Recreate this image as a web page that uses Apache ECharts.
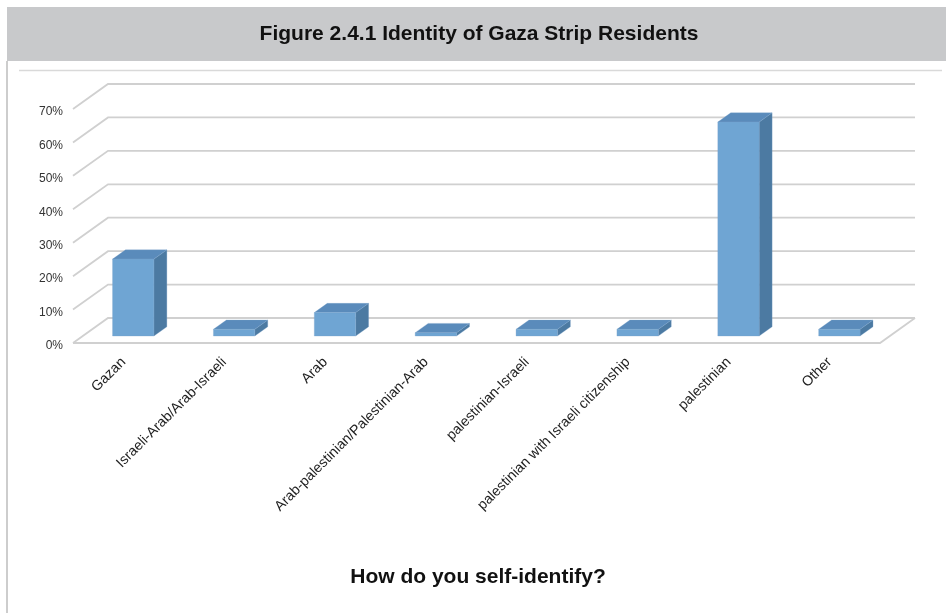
<!DOCTYPE html>
<html><head><meta charset="utf-8">
<script src="https://cdn.jsdelivr.net/npm/echarts@6/dist/echarts.min.js"></script>
<style>html,body{margin:0;padding:0;background:#fff}#c{width:946px;height:613px}</style>
</head><body><div id="c"></div>
<script>
const titleText = 'Figure 2.4.1 Identity of Gaza Strip Residents';
const xAxisTitle = 'How do you self-identify?';
const categories = ['Gazan', 'Israeli-Arab/Arab-Israeli', 'Arab', 'Arab-palestinian/Palestinian-Arab', 'palestinian-Israeli', 'palestinian with Israeli citizenship', 'palestinian', 'Other'];
const shares = [23, 2, 7, 1, 2, 2, 64, 2];
const yTicks = [0, 10, 20, 30, 40, 50, 60, 70];

const FONT = '"Liberation Sans", Arial, sans-serif';
const DX = 35, DY = -25;          // depth of the 3D box
const BAR_FRONT = 0.28, BAR_DEPTH = 0.37, BAR_W = 0.41;

const chart = echarts.init(document.getElementById('c'), null, {renderer: 'canvas'});

function renderWalls(params, api) {
  const n = categories.length;
  const bw = api.size([1, 0])[0];
  const x0 = api.coord([0, 0])[0] - bw / 2;
  const x1 = api.coord([n - 1, 0])[0] + bw / 2;
  const children = [];
  const lineStyle = {stroke: '#d0d0d0', lineWidth: 1.8, fill: 'none'};
  yTicks.forEach(function (v) {
    const y = api.coord([0, v])[1];
    children.push({type: 'polyline', shape: {points: [[x0, y], [x0 + DX, y + DY], [x1 + DX, y + DY]]}, style: lineStyle});
  });
  const y0 = api.coord([0, 0])[1];
  children.push({type: 'polyline', shape: {points: [[x0, y0], [x1, y0], [x1 + DX, y0 + DY]]}, style: lineStyle});
  return {type: 'group', children: children};
}

function renderBar(params, api) {
  const i = api.value(0), v = api.value(1);
  const top = api.coord([i, v]);
  const base = api.coord([i, 0]);
  const bw = api.size([1, 0])[0];
  const w = bw * BAR_W;
  const ox = DX * BAR_FRONT, oy = DY * BAR_FRONT;
  const bx = DX * BAR_DEPTH, by = DY * BAR_DEPTH;
  const xl = top[0] - w / 2 + ox, xr = xl + w;
  const yt = top[1] + oy, yb = base[1] + oy;
  const edge = 'rgba(120,160,200,0.6)';
  return {type: 'group', children: [
    {type: 'polygon', shape: {points: [[xr, yt], [xr + bx, yt + by], [xr + bx, yb + by], [xr, yb]]}, style: {fill: '#4c7aa2', stroke: edge, lineWidth: 0.5}},
    {type: 'polygon', shape: {points: [[xl, yt], [xr, yt], [xr + bx, yt + by], [xl + bx, yt + by]]}, style: {fill: '#5a8bbb', stroke: edge, lineWidth: 0.5}},
    {type: 'rect', shape: {x: xl, y: yt, width: w, height: yb - yt}, style: {fill: '#6fa5d3', stroke: edge, lineWidth: 0.5}}
  ]};
}

const option = {
  animation: false,
  backgroundColor: '#fff',
  grid: {left: 73, right: 66, top: 109, bottom: 270},
  xAxis: {
    type: 'category', data: categories,
    axisLine: {show: false}, axisTick: {show: false}, splitLine: {show: false},
    axisLabel: {rotate: 45, interval: 0, margin: 17, fontSize: 14.2, color: '#222', fontFamily: FONT}
  },
  yAxis: {
    type: 'value', min: 0, max: 70, interval: 10,
    axisLine: {show: false}, axisTick: {show: false}, splitLine: {show: false},
    axisLabel: {formatter: '{value}%', fontSize: 12, color: '#333', margin: 10, fontFamily: FONT, verticalAlign: 'top', lineHeight: 6}
  },
  graphic: [
    {type: 'rect', z: -10, shape: {x: 7, y: 7, width: 939, height: 54}, style: {fill: '#c8c9cb'}},
    {type: 'line', z: -10, shape: {x1: 7, y1: 61, x2: 7, y2: 613}, style: {stroke: '#cdcdcd', lineWidth: 2}},
    {type: 'line', z: -10, shape: {x1: 19, y1: 70.5, x2: 942, y2: 70.5}, style: {stroke: '#d9d9d9', lineWidth: 1.5}},
    {type: 'text', x: 479, y: 34, style: {text: titleText, font: 'bold 21px ' + FONT, fill: '#111', align: 'center', verticalAlign: 'middle'}},
    {type: 'text', x: 478, y: 577, style: {text: xAxisTitle, font: 'bold 21px ' + FONT, fill: '#111', align: 'center', verticalAlign: 'middle'}}
  ],
  series: [
    {type: 'custom', name: 'walls', renderItem: renderWalls, data: [[0, 0]], clip: false, silent: true, z: 1},
    {type: 'custom', name: 'share', renderItem: renderBar, data: shares.map(function (v, i) { return [i, v]; }), clip: false, z: 2}
  ]
};
chart.setOption(option);
</script>
</body></html>
